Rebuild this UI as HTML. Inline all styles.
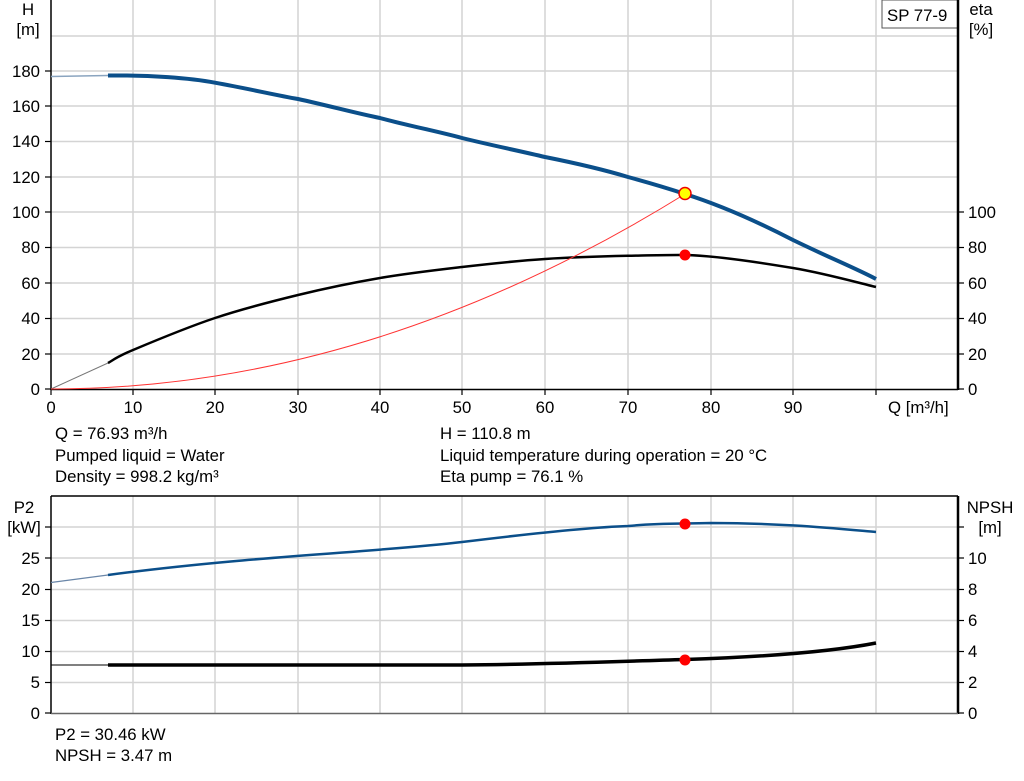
<!DOCTYPE html>
<html><head><meta charset="utf-8"><style>
html,body{margin:0;padding:0;background:#fff}
svg{display:block}
text{font-family:"Liberation Sans",Arial,sans-serif;font-size:16.8px;fill:#000}
</style></head><body>
<svg width="1024" height="781" viewBox="0 0 1024 781" xmlns="http://www.w3.org/2000/svg">
<g stroke="#d4d4d4" stroke-width="1.5">
<line x1="133" y1="0" x2="133" y2="389"/><line x1="215" y1="0" x2="215" y2="389"/><line x1="298" y1="0" x2="298" y2="389"/><line x1="380" y1="0" x2="380" y2="389"/><line x1="462" y1="0" x2="462" y2="389"/><line x1="545" y1="0" x2="545" y2="389"/><line x1="628" y1="0" x2="628" y2="389"/><line x1="711" y1="0" x2="711" y2="389"/><line x1="793" y1="0" x2="793" y2="389"/><line x1="876" y1="0" x2="876" y2="389"/>
<line x1="51" y1="354" x2="958" y2="354"/><line x1="51" y1="318.5" x2="958" y2="318.5"/><line x1="51" y1="283" x2="958" y2="283"/><line x1="51" y1="247.5" x2="958" y2="247.5"/><line x1="51" y1="212" x2="958" y2="212"/><line x1="51" y1="177" x2="958" y2="177"/><line x1="51" y1="141.5" x2="958" y2="141.5"/><line x1="51" y1="106" x2="958" y2="106"/><line x1="51" y1="71" x2="958" y2="71"/><line x1="51" y1="36" x2="958" y2="36"/>
</g>
<rect x="882" y="0" width="76" height="28" fill="#fff" stroke="#555" stroke-width="1"/>
<text x="887" y="21">SP 77-9</text>
<line x1="51" y1="0" x2="51" y2="390" stroke="#000" stroke-width="1.5"/>
<line x1="958" y1="0" x2="958" y2="390" stroke="#000" stroke-width="2.5"/>
<line x1="51" y1="389.5" x2="958" y2="389.5" stroke="#000" stroke-width="1.5"/>
<g stroke="#000" stroke-width="1.2">
<line x1="45" y1="389" x2="51" y2="389"/><line x1="45" y1="354" x2="51" y2="354"/><line x1="45" y1="318.5" x2="51" y2="318.5"/><line x1="45" y1="283" x2="51" y2="283"/><line x1="45" y1="247.5" x2="51" y2="247.5"/><line x1="45" y1="212" x2="51" y2="212"/><line x1="45" y1="177" x2="51" y2="177"/><line x1="45" y1="141.5" x2="51" y2="141.5"/><line x1="45" y1="106" x2="51" y2="106"/><line x1="45" y1="71" x2="51" y2="71"/>
<line x1="958" y1="389" x2="964" y2="389"/><line x1="958" y1="354" x2="964" y2="354"/><line x1="958" y1="318.5" x2="964" y2="318.5"/><line x1="958" y1="283" x2="964" y2="283"/><line x1="958" y1="247.5" x2="964" y2="247.5"/><line x1="958" y1="212" x2="964" y2="212"/>
<line x1="51" y1="389" x2="51" y2="395"/><line x1="133" y1="389" x2="133" y2="395"/><line x1="215" y1="389" x2="215" y2="395"/><line x1="298" y1="389" x2="298" y2="395"/><line x1="380" y1="389" x2="380" y2="395"/><line x1="462" y1="389" x2="462" y2="395"/><line x1="545" y1="389" x2="545" y2="395"/><line x1="628" y1="389" x2="628" y2="395"/><line x1="711" y1="389" x2="711" y2="395"/><line x1="793" y1="389" x2="793" y2="395"/><line x1="876" y1="389" x2="876" y2="395"/>
</g>
<g text-anchor="end">
<text x="40" y="395">0</text><text x="40" y="360">20</text><text x="40" y="324">40</text><text x="40" y="289">60</text><text x="40" y="253">80</text><text x="40" y="218">100</text><text x="40" y="183">120</text><text x="40" y="147">140</text><text x="40" y="112">160</text><text x="40" y="77">180</text>
</g>
<text x="968" y="395">0</text><text x="968" y="360">20</text><text x="968" y="324">40</text><text x="968" y="289">60</text><text x="968" y="253">80</text><text x="968" y="218">100</text>
<g text-anchor="middle">
<text x="51" y="413">0</text><text x="133" y="413">10</text><text x="215" y="413">20</text><text x="298" y="413">30</text><text x="380" y="413">40</text><text x="462" y="413">50</text><text x="545" y="413">60</text><text x="628" y="413">70</text><text x="711" y="413">80</text><text x="793" y="413">90</text>
<text x="28" y="15">H</text><text x="28" y="35">[m]</text>
<text x="981" y="15">eta</text><text x="981" y="35">[%]</text>
</g>
<text x="888" y="413">Q [m³/h]</text>
<path d="M51,76.5 L108,75.5" stroke="#8aa4bf" stroke-width="1.5" fill="none"/>
<path d="M108,75.5 C150,75 190,78 215,82.7 C250,89 275,95 298,99 C330,106 355,113 380,118 C410,126 440,132 462,138 C490,145 520,151 545,157 C575,163 605,170 628,177 C650,183 670,189 685,194 C720,205 760,223 793,240 C830,258 855,268 876,279" stroke="#0b4f8a" stroke-width="4" fill="none"/>
<path d="M51,389 L108,363" stroke="#777" stroke-width="1" fill="none"/>
<path d="M108,363 C112.2,360.8 115.2,357.5 133,350 C150.8,342.5 187.5,327.2 215,318 C242.5,308.8 270.5,301.7 298,295 C325.5,288.3 352.7,282.7 380,278 C407.3,273.3 434.5,270.2 462,267 C489.5,263.8 517.3,260.8 545,259 C572.7,257.2 604.7,256.3 628,255.8 C651.3,255.3 665,254.8 685,255 C712.5,255.5 761.2,262.7 793,268 C824.8,273.3 862.2,283.8 876,287" stroke="#000" stroke-width="2.5" fill="none"/>
<path d="M51,389 Q370,389 685,194" stroke="#f33" stroke-width="1" fill="none"/>
<circle cx="685" cy="255" r="5.5" fill="#f00"/>
<circle cx="685" cy="193.5" r="6" fill="#ff0" stroke="#e00" stroke-width="1.5"/>
<text x="55" y="439">Q = 76.93 m³/h</text>
<text x="55" y="461">Pumped liquid = Water</text>
<text x="55" y="482">Density = 998.2 kg/m³</text>
<text x="440" y="439">H = 110.8 m</text>
<text x="440" y="461">Liquid temperature during operation = 20 °C</text>
<text x="440" y="482">Eta pump = 76.1 %</text>
<g stroke="#d4d4d4" stroke-width="1.5">
<line x1="133" y1="496" x2="133" y2="713"/><line x1="215" y1="496" x2="215" y2="713"/><line x1="298" y1="496" x2="298" y2="713"/><line x1="380" y1="496" x2="380" y2="713"/><line x1="462" y1="496" x2="462" y2="713"/><line x1="545" y1="496" x2="545" y2="713"/><line x1="628" y1="496" x2="628" y2="713"/><line x1="711" y1="496" x2="711" y2="713"/><line x1="793" y1="496" x2="793" y2="713"/><line x1="876" y1="496" x2="876" y2="713"/>
<line x1="51" y1="527" x2="958" y2="527"/><line x1="51" y1="558" x2="958" y2="558"/><line x1="51" y1="589.5" x2="958" y2="589.5"/><line x1="51" y1="620.5" x2="958" y2="620.5"/><line x1="51" y1="651.5" x2="958" y2="651.5"/><line x1="51" y1="682.5" x2="958" y2="682.5"/>
</g>
<line x1="51" y1="496" x2="958" y2="496" stroke="#000" stroke-width="1.5"/>
<line x1="51" y1="496" x2="51" y2="714" stroke="#000" stroke-width="1.5"/>
<line x1="958" y1="496" x2="958" y2="714" stroke="#000" stroke-width="2.5"/>
<line x1="51" y1="713.5" x2="958" y2="713.5" stroke="#666" stroke-width="1.5"/>
<g stroke="#000" stroke-width="1.2">
<line x1="45" y1="527" x2="51" y2="527"/><line x1="45" y1="558" x2="51" y2="558"/><line x1="45" y1="589.5" x2="51" y2="589.5"/><line x1="45" y1="620.5" x2="51" y2="620.5"/><line x1="45" y1="651.5" x2="51" y2="651.5"/><line x1="45" y1="682.5" x2="51" y2="682.5"/><line x1="45" y1="713" x2="51" y2="713"/>
<line x1="958" y1="527" x2="964" y2="527"/><line x1="958" y1="558" x2="964" y2="558"/><line x1="958" y1="589.5" x2="964" y2="589.5"/><line x1="958" y1="620.5" x2="964" y2="620.5"/><line x1="958" y1="651.5" x2="964" y2="651.5"/><line x1="958" y1="682.5" x2="964" y2="682.5"/><line x1="958" y1="713" x2="964" y2="713"/>
</g>
<g text-anchor="end">
<text x="40" y="564">25</text><text x="40" y="595">20</text><text x="40" y="626">15</text><text x="40" y="657">10</text><text x="40" y="688">5</text><text x="40" y="719">0</text>
</g>
<text x="968" y="564">10</text><text x="968" y="595">8</text><text x="968" y="626">6</text><text x="968" y="657">4</text><text x="968" y="688">2</text><text x="968" y="719">0</text>
<g text-anchor="middle">
<text x="24" y="513">P2</text><text x="24" y="533">[kW]</text>
<text x="990" y="513">NPSH</text><text x="990" y="533">[m]</text>
</g>
<path d="M51,582.5 L108,575" stroke="#6a86a8" stroke-width="1.3" fill="none"/>
<path d="M108,575 C250,556 380,552 462,542 C560,530 600,527 628,526 C660,523 680,524 711,523 C780,523 830,528 876,532" stroke="#0b4f8a" stroke-width="2.5" fill="none"/>
<path d="M51,665 L108,665" stroke="#000" stroke-width="1" fill="none"/>
<path d="M108,665 L462,665 C560,664 600,662 685,659.5 C760,657 830,652 876,643" stroke="#000" stroke-width="3.5" fill="none"/>
<circle cx="685" cy="524" r="5.5" fill="#f00"/>
<circle cx="685" cy="660" r="5.5" fill="#f00"/>
<text x="55" y="740">P2 = 30.46 kW</text>
<text x="55" y="761">NPSH = 3.47 m</text>
</svg>
</body></html>
